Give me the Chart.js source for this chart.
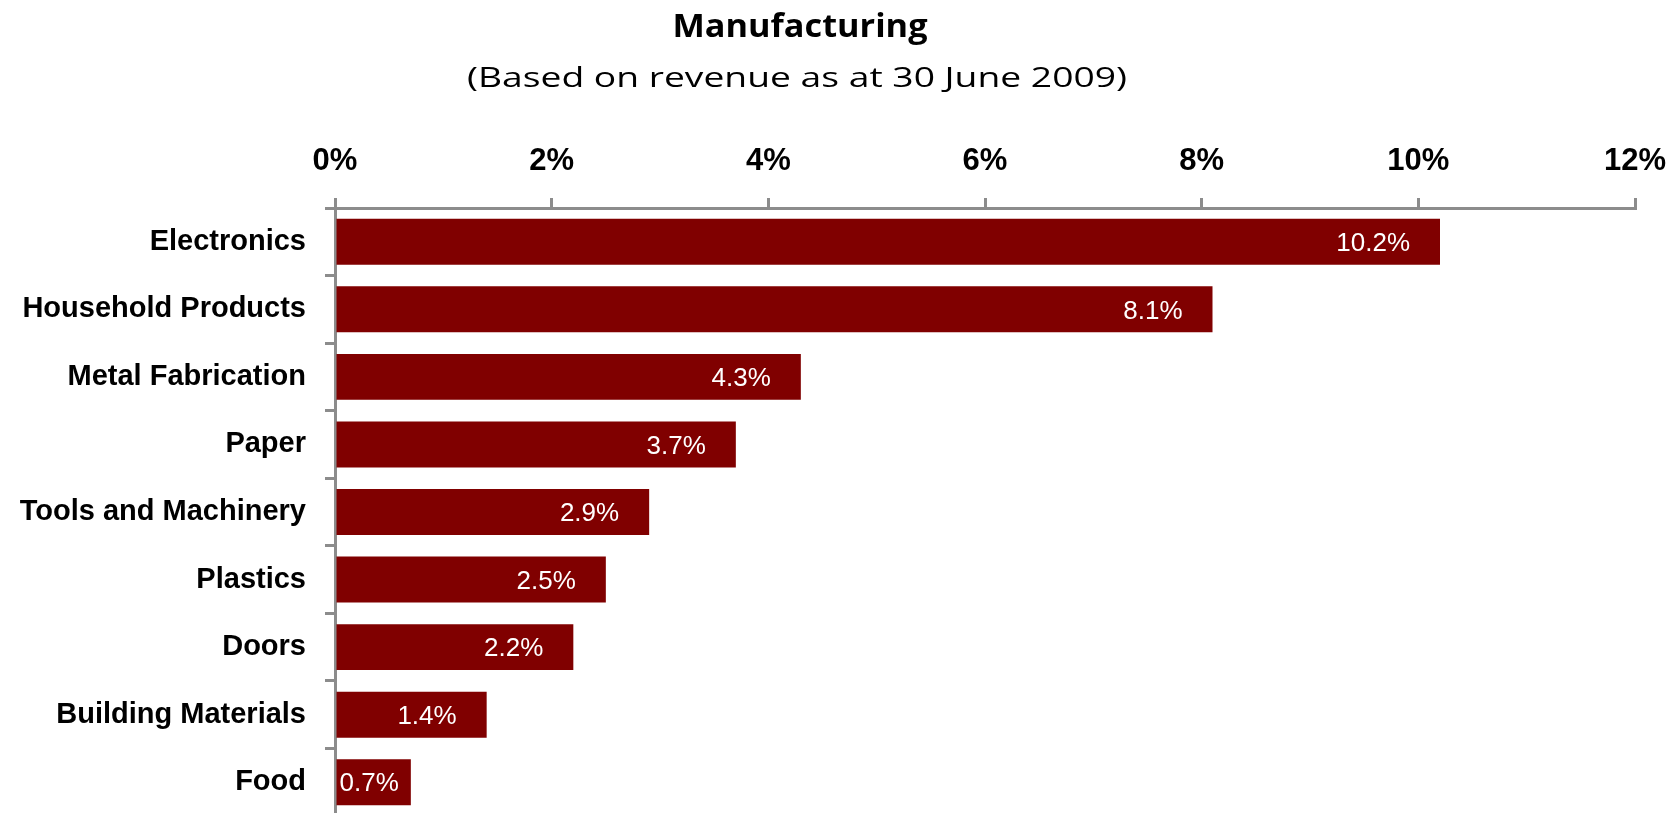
<!DOCTYPE html>
<html>
<head>
<meta charset="utf-8">
<script src="https://cdn.jsdelivr.net/npm/chart.js@4.4.0/dist/chart.umd.min.js"></script>
<style>
  html, body { margin: 0; padding: 0; background: #fff; overflow: hidden; }
  #wrap { width: 1678px; height: 830px; }
</style>
</head>
<body>
<div id="wrap"><canvas id="chart" width="1678" height="830"></canvas></div>
<script>
const categories = ["Electronics", "Household Products", "Metal Fabrication", "Paper", "Tools and Machinery", "Plastics", "Doors", "Building Materials", "Food"];
const shares = [10.2, 8.1, 4.3, 3.7, 2.9, 2.5, 2.2, 1.4, 0.7];
const tickValues = [0, 2, 4, 6, 8, 10, 12];
const titleText = "Manufacturing";
const subtitleText = "(Based on revenue as at 30 June 2009)";

const barColor = "#800000";
const axisColor = "#8c8c8c";

// draw a line of text centred on cx and stretched to the given width
function drawWide(ctx, text, cx, y, width) {
  const w = ctx.measureText(text).width;
  ctx.save();
  ctx.translate(cx, y);
  ctx.scale(width / w, 1);
  ctx.fillText(text, 0, 0);
  ctx.restore();
}

// two-line heading above the axis
const headingPlugin = {
  id: "heading",
  afterDraw(chart) {
    const ctx = chart.ctx;
    ctx.save();
    ctx.fillStyle = "#000";
    ctx.textAlign = "center";
    ctx.textBaseline = "alphabetic";
    ctx.font = "bold 33px 'Open Sans'";
    drawWide(ctx, titleText, 800, 37, 255);
    ctx.font = "27px 'Open Sans'";
    drawWide(ctx, subtitleText, 797, 87, 660);
    ctx.restore();
  }
};

// white value labels just inside the end of each bar
const valueLabelPlugin = {
  id: "valueLabels",
  afterDatasetsDraw(chart) {
    const ctx = chart.ctx;
    const meta = chart.getDatasetMeta(0);
    ctx.save();
    ctx.font = "26px 'Liberation Sans'";
    ctx.fillStyle = "#fff";
    ctx.textAlign = "right";
    ctx.textBaseline = "middle";
    meta.data.forEach(function(bar, i) {
      const text = shares[i].toFixed(1) + "%";
      const w = ctx.measureText(text).width;
      let x = bar.x - 30;
      if (x - w < bar.base + 3) x = bar.base + 3 + w;
      ctx.fillText(text, x, bar.y + 2);
    });
    ctx.restore();
  }
};

new Chart(document.getElementById("chart"), {
  type: "bar",
  data: {
    labels: categories,
    datasets: [{
      data: shares,
      backgroundColor: barColor,
      borderWidth: 0,
      categoryPercentage: 1,
      barPercentage: 0.68
    }]
  },
  plugins: [headingPlugin, valueLabelPlugin],
  options: {
    indexAxis: "y",
    responsive: false,
    devicePixelRatio: 1,
    animation: false,
    layout: { padding: { top: 111, right: 43, bottom: 14, left: 0 } },
    plugins: {
      legend: { display: false },
      tooltip: { enabled: false },
      title: { display: false }
    },
    scales: {
      x: {
        position: "top",
        min: 0,
        max: 12,
        afterBuildTicks(scale) {
          scale.ticks = tickValues.map(v => ({ value: v }));
        },
        ticks: {
          callback: v => v + "%",
          font: { family: "Liberation Sans", size: 31, weight: "bold" },
          color: "#000",
          padding: 18
        },
        grid: { drawOnChartArea: false, drawTicks: true, tickLength: 10, color: axisColor, lineWidth: 3 },
        border: { color: axisColor, width: 3 },
        afterFit(scale) {
          scale.height = 97;
          scale.paddingLeft = 0;
          scale.paddingRight = 0;
        }
      },
      y: {
        ticks: {
          font: { family: "Liberation Sans", size: 29, weight: "bold" },
          color: "#000",
          padding: 19
        },
        grid: { drawOnChartArea: false, tickLength: 10, color: axisColor, lineWidth: 3, offset: true },
        border: { color: axisColor, width: 3 },
        afterFit(scale) {
          scale.width = 335;
          scale.paddingTop = 0;
          scale.paddingBottom = 0;
        }
      }
    }
  }
});
</script>
</body>
</html>
